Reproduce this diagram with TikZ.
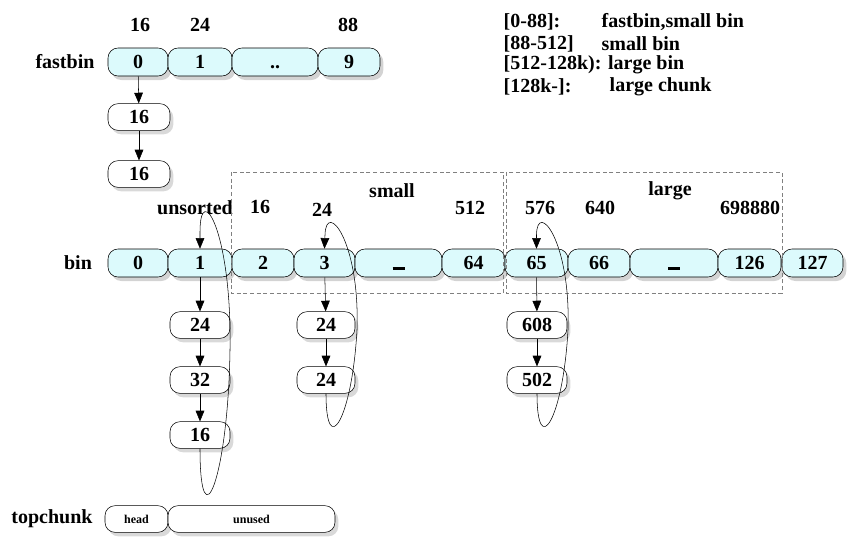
\documentclass[tikz,border=0pt]{standalone}
\usepackage{fontspec}
\setmainfont{Liberation Serif}
\usetikzlibrary{shadows,arrows.meta}
\usepackage{xcolor}
\definecolor{binfill}{RGB}{220,250,252}

\tikzset{
  cw/.style={minimum width=#1*0.75pt},
  cell/.style={draw,fill=binfill,rounded corners=7.5pt,minimum height=21pt,inner sep=0pt,
    drop shadow={opacity=0.35,shadow xshift=2.5pt,shadow yshift=-3pt}},
  chunk/.style={draw,fill=white,rounded corners=7.5pt,minimum height=20pt,inner sep=0pt,
    drop shadow={opacity=0.3,shadow xshift=2.5pt,shadow yshift=-3pt}},
  tinytext/.style={font=\fontsize{9}{10}\selectfont\bfseries},
  link/.style={-{Triangle[length=8pt,width=6.5pt]},draw=black},
  backlink/.style={-{Triangle[length=8pt,width=6.5pt]},draw=black,thin},
  binrange/.style={draw=gray,densely dashed,thin}
}
\newcommand{\gap}{\vphantom{0}\rule{9pt}{1.8pt}}

\begin{document}
\begin{tikzpicture}[x=0.75pt,y=-0.75pt,every node/.style={font=\fontsize{15}{17}\selectfont\bfseries}]
    \useasboundingbox (0,0) rectangle (858,547);

    % legend
    \node[anchor=west] (LgA) at (499,22) {[0-88]:};
    \node[anchor=west] (LgAt) at (597,22) {fastbin,small bin};
    \node[anchor=west] (LgB) at (499,44) {[88-512]};
    \node[anchor=west] (LgBt) at (597,44) {small bin};
    \node[anchor=west] (LgC) at (499,65) {[512-128k): large bin};
    \node[anchor=west] (LgD) at (499,87) {[128k-]:};
    \node[anchor=west] (LgDt) at (605,87) {large chunk};

    % fastbin
    \node (FbLa) at (65,62) {fastbin};
    \node (FbSz0) at (140,25) {16};
    \node (FbSz1) at (200,25) {24};
    \node (FbSz9) at (348,25) {88};

    \node[cell,cw=60] (Fb0) at (138,62) {0};
    \node[cell,cw=64] (Fb1) at (200,62) {1};
    \node[cell,cw=86] (FbDo) at (275,62) {\vphantom{0}..};
    \node[cell,cw=62] (Fb9) at (349,62) {9};

    \node[chunk,cw=62] (FcA) at (139,117) {16};
    \node[chunk,cw=62] (FcB) at (139,174) {16};

    \draw[link] (Fb0) to (FcA);
    \draw[link] (FcA) to (FcB);

    % bin
    \node (BiLa) at (78,263) {bin};
    \node (UnLa) at (195,208) {unsorted};
    \node (SmLa) at (392,191) {small};
    \node (LaLa) at (670,191) {large};
    \node (BiSz2) at (260,207) {16};
    \node (BiSz3) at (322,210) {24};
    \node (BiSz64) at (470,208) {512};
    \node (BiSz65) at (540,208) {576};
    \node (BiSz66) at (600,208) {640};
    \node (BiSz126) at (750,208) {698880};

    \node[cell,cw=60] (Bi0) at (138,263) {0};
    \node[cell,cw=64] (Bi1) at (200,263) {1};
    \node[cell,cw=62] (Bi2) at (263,263) {2};
    \node[cell,cw=61] (Bi3) at (324.5,263) {3};
    \node[cell,cw=87] (BiDo) at (398.5,263) {\gap};
    \node[cell,cw=63] (Bi64) at (473.5,263) {64};
    \node[cell,cw=63] (Bi65) at (536.5,263) {65};
    \node[cell,cw=62] (Bi66) at (599,263) {66};
    \node[cell,cw=88] (BiDt) at (674,263) {\gap};
    \node[cell,cw=63] (Bi126) at (749.5,263) {126};
    \node[cell,cw=61] (Bi127) at (812.5,263) {127};

    \draw[binrange] (231,172) rectangle (503,293);
    \draw[binrange] (506,172) rectangle (782,293);

    % unsorted list
    \node[chunk,cw=60] (UcA) at (200,325) {24};
    \node[chunk,cw=60] (UcB) at (200,380) {32};
    \node[chunk,cw=60] (UcC) at (200,435) {16};

    \draw[link] (Bi1) to (UcA);
    \draw[link] (UcA) to (UcB);
    \draw[link] (UcB) to (UcC);
    \draw[backlink] (UcC.south) .. controls (200,545) and (228,480) .. (230,350)
      .. controls (232,230) and (200,180) .. (200,232) -- (Bi1.north);

    % small list
    \node[chunk,cw=58] (ScA) at (326,325) {24};
    \node[chunk,cw=58] (ScB) at (326,380) {24};

    \draw[link] (Bi3) to (ScA);
    \draw[link] (ScA) to (ScB);
    \draw[backlink] (ScB.south) .. controls (326,460) and (352,420) .. (357,330)
      .. controls (360,240) and (326,200) .. (325,235) -- (Bi3.north);

    % large list
    \node[chunk,cw=60] (LcA) at (537,325) {608};
    \node[chunk,cw=60] (LcB) at (537,380) {502};

    \draw[link] (Bi65) to (LcA);
    \draw[link] (LcA) to (LcB);
    \draw[backlink] (LcB.south) .. controls (537,460) and (563,420) .. (568,330)
      .. controls (571,240) and (537,200) .. (536.5,235) -- (Bi65.north);

    % topchunk
    \node (TcLa) at (52,519) {topchunk};
    \node[chunk,cw=63,tinytext] (TcHe) at (136.5,519) {head};
    \node[chunk,cw=167,tinytext] (TcUn) at (251.5,519) {unused};

\end{tikzpicture}
\end{document}
